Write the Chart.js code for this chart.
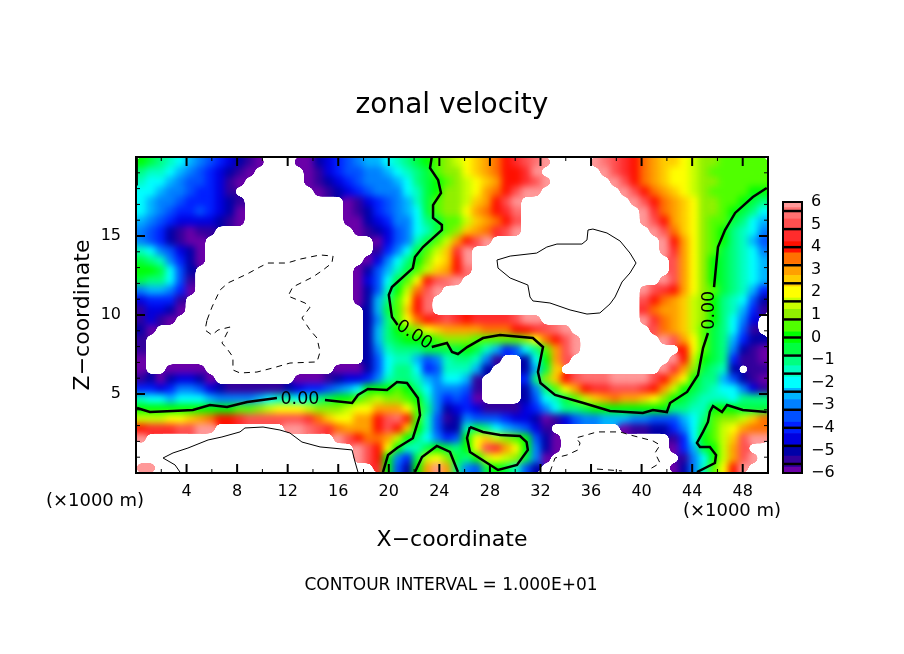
<!DOCTYPE html>
<html>
<head>
<meta charset="utf-8">
<style>
  html, body { margin: 0; padding: 0; background: #fff; }
  #field, #plot { position: absolute; left: 0; top: 0; }
  #field { filter: url(#soften); }
  #bar { position: absolute; left: 770px; top: 190px; }
</style>
<script src="https://cdn.jsdelivr.net/npm/chart.js@4/dist/chart.umd.min.js"></script>
</head>
<body>
<svg width="0" height="0" style="position:absolute">
  <filter id="soften" x="0" y="0" width="100%" height="100%" color-interpolation-filters="sRGB">
    <feGaussianBlur stdDeviation="3.6"/>
    <feComponentTransfer><feFuncA type="linear" slope="30" intercept="-14.5"/></feComponentTransfer>
  </filter>
</svg>
<canvas id="field" width="904" height="654"></canvas>
<canvas id="plot" width="904" height="654"></canvas>
<canvas id="bar" width="70" height="295"></canvas>
<script>
// colour levels, -6 to 6 in half steps
const levels = [-6,-5.5,-5,-4.5,-4,-3.5,-3,-2.5,-2,-1.5,-1,-0.5,0,0.5,1,1.5,2,2.5,3,3.5,4,4.5,5,5.5,6]
const levelColors = ["#6a00a8","#32009c","#0000a8","#0000e0","#0020ff","#0050ff","#0080ff","#00b4ff","#00ffff","#00ffc0","#00ff80","#00ff40","#00ff00","#50ff00","#90f000","#c8ff00","#ffff00","#ffcc00","#ffa000","#ff7000","#ff1000","#ff2c2c","#ff5050","#ff7070","#ff9999"]
const barSeparators = [-5.6,-4.8,-4,-3.2,-2.4,-1.6,-0.8,0,0.8,1.6,2.4,3.2,4,4.8,5.6]
const barTicks = [-6,-5,-4,-3,-2,-1,0,1,2,3,4,5,6]

const xTicks = [4,8,12,16,20,24,28,32,36,40,44,48]
const xMinorTicks = [2,6,10,14,18,22,26,30,34,38,42,46]
const zTicks = [5,10,15]
const zMinorTicks = [1,2,3,4,6,7,8,9,11,12,13,14,16,17,18,19]

// zonal velocity, rows from the top of the plot, 64 columns each. 7 / -7 = off the scale (left white)
const zonal = [
[0,-0.5,-1,-1.5,-2,-2.5,-3,-3.5,-4,-4.5,-5,-5.5,-6,-7,-7,-7,-6,-6,-5,-4.5,-4,-3.5,-3,-2.5,-2.5,-2,-1.5,-1,-0.5,0,0.5,1,1.5,2,2.5,3,3.5,4,4.5,5,5.5,6,7,7,7,7,6,5.5,5,4.5,4,3.5,3,2.5,2.5,2,1.5,1,1,0.5,0.5,0.5,0.5,0.5],
[-1,-1.5,-1.5,-2,-2.5,-3,-3.5,-4,-4.5,-5,-5.5,-6,-7,-7,-7,-7,-7,-6,-5.5,-4.5,-4,-3.5,-3.5,-3,-3,-2.5,-2,-1.5,-1,-0.5,0.5,1,1,2,2.5,3,3.5,4,4,4.5,6,7,7,7,7,7,7,6,5,4.5,4,3.5,3,2.5,2,2,1.5,1,0.5,0.5,0.5,0.5,0.5,0.5],
[-1.5,-2,-2,-2.5,-3,-3.5,-3.5,-4,-4.5,-5.5,-6,-7,-7,-7,-7,-7,-7,-6,-5.5,-5,-4.5,-4,-3.5,-3,-3,-3,-2.5,-2,-1,-0.5,0,0.5,1,1.5,2,2.5,3,4,4,4.5,5,6,7,7,7,7,7,7,6,5,4,3.5,3,2.5,2,2,1.5,1,1,0.5,0.5,0.5,0.5,0.5],
[-2,-2,-2.5,-3,-3,-3.5,-4,-4,-4.5,-5.5,-7,-7,-7,-7,-7,-7,-7,-7,-6,-5.5,-5,-4.5,-4,-3.5,-3,-3,-3,-2,-1.5,-0.5,0,1,1,1.5,2,3,3.5,4,5,6,6,7,7,7,7,7,7,7,7,6,5,4,3.5,3,2.5,2,1.5,1,0.5,0.5,0.5,0.5,0,0],
[-2,-2.5,-3,-3,-3.5,-4,-4,-4,-4.5,-5,-5.5,-7,-7,-7,-7,-7,-7,-7,-7,-7,-7,-6,-5.5,-4.5,-4,-3.5,-3,-2.5,-1.5,-0.5,0.5,1,1,1.5,2.5,3,4,5,6,7,7,7,7,7,7,7,7,7,7,7,6,5,4,3.5,3,2.5,2,1,1,0.5,0.5,0,-0.5,-1],
[-2,-2.5,-3,-3.5,-4,-4,-3.5,-4,-4.5,-5,-6,-7,-7,-7,-7,-7,-7,-7,-7,-7,-7,-6,-5.5,-5,-4,-3.5,-3,-2.5,-2,-0.5,0.5,1,1,2,3,3.5,4,4.5,5.5,7,7,7,7,7,7,7,7,7,7,7,7,6,4.5,3.5,3,2.5,2,1,1,0.5,0,-0.5,-1,-2],
[-2.5,-3,-3.5,-4,-4.5,-4.5,-4.5,-4.5,-5,-5.5,-6,-7,-7,-7,-7,-7,-7,-7,-7,-7,-7,-6,-6,-5,-4.5,-4,-3,-3,-2,-1,-0.5,0.5,0.5,1.5,2.5,3,3.5,4,5,7,7,7,7,7,7,7,7,7,7,7,7,6,5,4,3,2.5,2,1,0.5,0.5,-0.5,-1,-2,-2.5],
[-3,-3.5,-4,-5,-5.5,-6,-5.5,-5.5,-7,-7,-7,-7,-7,-7,-7,-7,-7,-7,-7,-7,-7,-7,-6,-5.5,-5,-4.5,-3.5,-3,-2,-1.5,-0.5,0.5,1,2.5,3,3.5,4.5,5,6,7,7,7,7,7,7,7,7,7,7,7,7,7,6,5,3.5,2.5,2,1,0.5,0,-1,-1.5,-2,-3],
[-3,-3.5,-4,-5,-5.5,-6,-6,-7,-7,-7,-7,-7,-7,-7,-7,-7,-7,-7,-7,-7,-7,-7,-7,-7,-6,-4.5,-3.5,-3,-1.5,-0.5,0.5,1.5,3,4,5,6,7,7,7,7,7,7,7,7,7,7,7,7,7,7,7,7,7,6,4,3,2,1,0.5,0,-1,-1.5,-2.5,-3.5],
[-1.5,-2,-3,-3.5,-4.5,-5,-6,-7,-7,-7,-7,-7,-7,-7,-7,-7,-7,-7,-7,-7,-7,-7,-7,-7,-5.5,-4,-3,-2,-0.5,0.5,1.5,2.5,4.5,6,7,7,7,7,7,7,7,7,7,7,7,7,7,7,7,7,7,7,7,6,4.5,3,2,1,0.5,-0.5,-1,-1.5,-2,-3],
[-0.5,-1,-1.5,-3,-4,-5,-6,-7,-7,-7,-7,-7,-7,-7,-7,-7,-7,-7,-7,-7,-7,-7,-7,-6,-4.5,-3,-2,-1,0,1,2,2.5,4,6,7,7,7,7,7,7,7,7,7,7,7,7,7,7,7,7,7,7,7,7,5,3,2,1,0,-0.5,-1,-1.5,-2,-2.5],
[0,0,-0.5,-2,-3.5,-5,-7,-7,-7,-7,-7,-7,-7,-7,-7,-7,-7,-7,-7,-7,-7,-7,-6,-5,-3.5,-2.5,-1.5,-0.5,0.5,1.5,2.5,3,4,5.5,7,7,7,7,7,7,7,7,7,7,7,7,7,7,7,7,7,7,7,7,5,3,2,1,0,-0.5,-1,-1.5,-2,-2.5],
[-0.5,-1,-1,-2,-3.5,-5.5,-7,-7,-7,-7,-7,-7,-7,-7,-7,-7,-7,-7,-7,-7,-7,-7,-6,-4.5,-3.5,-2,-0.5,0.5,2,4,5,5.5,6,7,7,7,7,7,7,7,7,7,7,7,7,7,7,7,7,7,7,7,7,6,5,3,2,1,0,-0.5,-1,-1.5,-2,-2.5],
[-3,-2.5,-2.5,-3,-4,-6,-7,-7,-7,-7,-7,-7,-7,-7,-7,-7,-7,-7,-7,-7,-7,-7,-6,-5,-3.5,-1.5,0,1.5,3.5,5,6,7,7,7,7,7,7,7,7,7,7,7,7,7,7,7,7,7,7,7,7,6,5,4.5,4,3,2,1,0.5,-0.5,-1,-1.5,-2.5,-4],
[-4.5,-4,-4,-4,-5.5,-7,-7,-7,-7,-7,-7,-7,-7,-7,-7,-7,-7,-7,-7,-7,-7,-7,-6,-5,-2.5,-1,0.5,2,4,5.5,7,7,7,7,7,7,7,7,7,7,7,7,7,7,7,7,7,7,7,7,7,5,4,3.5,3,2.5,1.5,1,0,-1,-1.5,-2,-3.5,-5],
[-5.5,-4.5,-4.5,-5,-6,-7,-7,-7,-7,-7,-7,-7,-7,-7,-7,-7,-7,-7,-7,-7,-7,-7,-7,-5,-2.5,-0.5,0.5,2.5,4,5.5,7,7,7,7,7,7,7,7,7,7,7,7,7,7,7,7,7,7,7,7,7,4.5,3.5,3,3,2.5,1.5,1,0,-1,-1.5,-2.5,-4,-5.5],
[-5.5,-4.5,-5.5,-6,-7,-7,-7,-7,-7,-7,-7,-7,-7,-7,-7,-7,-7,-7,-7,-7,-7,-7,-7,-5,-3,-1,0.5,2,3.5,4,4.5,5,4.5,4,4.5,4.5,4.5,4.5,5,6,6,7,7,7,7,7,7,7,7,7,7,6,4.5,3.5,3,2.5,1.5,1,0,-1,-2,-3,-4.5,-7],
[-5,-6,-7,-7,-7,-7,-7,-7,-7,-7,-7,-7,-7,-7,-7,-7,-7,-7,-7,-7,-7,-7,-7,-5,-2.5,-1,0,0.5,1,2,2.5,3,3,3,3,3.5,3.5,3.5,4,4,4.5,5,5.5,6,7,7,7,7,7,7,7,7,5,3.5,3,2.5,1.5,0.5,-0.5,-1,-2,-3.5,-5.5,-7],
[-5.5,-7,-7,-7,-7,-7,-7,-7,-7,-7,-7,-7,-7,-7,-7,-7,-7,-7,-7,-7,-7,-7,-7,-5,-2.5,-1,-0.5,0,0,0,0.5,1,1,1,0.5,0.5,0.5,0.5,0.5,1,2,3.5,4,5,6,7,7,7,7,7,7,7,7,6,5,3,2,0.5,-0.5,-1,-2.5,-4,-5,-5],
[-5.5,-7,-7,-7,-7,-7,-7,-7,-7,-7,-7,-7,-7,-7,-7,-7,-7,-7,-7,-7,-7,-7,-7,-5,-3,-1.5,-1,-1,-1,-0.5,-0.5,-0.5,-0.5,0,-0.5,-1.5,-2.5,-4,-3.5,-2,-1,0.5,3,5,6,7,7,7,7,7,7,7,7,7,7,4,2,0.5,-0.5,-1,-3,-5,-5.5,-6],
[-6,-7,-7,-7,-7,-7,-7,-7,-7,-7,-7,-7,-7,-7,-7,-7,-7,-7,-7,-7,-7,-7,-7,-5,-3.5,-2,-1.5,-1.5,-2.5,-3.5,-3,-1.5,-1,-1,-1.5,-3,-5.5,-7,-7,-5,-2,0,3,5,7,7,7,7,7,7,7,7,7,7,6,4,1.5,0,-0.5,-1,-4,-5.5,-5.5,-6],
[-6,-7,-7,-6,-6,-6,-6,-7,-7,-7,-7,-7,-7,-7,-7,-7,-7,-7,-7,-7,-6,-6,-6,-5,-3.5,-2,-1,-1,-2,-4,-3.5,-1.5,-1.5,-1.5,-2.5,-5,-7,-7,-7,-5,-2.5,-0.5,2.5,7,7,7,7,7,7,7,7,7,7,6,4.5,3,1,-0.5,-1,-1.5,-5,-7,-5.5,-5.5],
[-5.5,-5,-6,-5,-4.5,-4.5,-5,-6,-7,-7,-7,-7,-7,-7,-7,-7,-6,-6,-6,-5.5,-5,-4.5,-4.5,-4,-3,-1.5,-1,-1,-1.5,-2.5,-3,-2,-2,-2.5,-5.5,-7,-7,-7,-7,-4,-1,1,2.5,4,5,5.5,5.5,5.5,6,6,6,6,5,4,3,2,0,-1,-1,-2.5,-3.5,-5,-5.5,-6],
[-4,-4,-4.5,-4,-3,-3,-3.5,-4.5,-5,-5.5,-5.5,-5.5,-5.5,-5.5,-5.5,-5,-4.5,-4,-4,-3.5,-3,-2.5,-2,0,0,0,0.5,0,-1,-2,-3,-3,-3,-3.5,-5.5,-7,-7,-7,-7,-5,-3,-1,0.5,2,3,4,4.5,4.5,5,5,5,4.5,4,3,1.5,0,-0.5,-1,-1.5,-2,-2,-3,-4.5,-5.5],
[-1.5,-2,-2,-2.5,-2,-2,-2,-2.5,-3,-3,-3,-3,-2.5,-2,-1.5,-1.5,-2,-1.5,-1,-0.5,0,0,0.5,1,1.5,1,1,0.5,0,-1.5,-3,-4,-3.5,-4,-6,-7,-7,-7,-7,-5,-3.5,-2,-1.5,-0.5,0.5,1.5,2.5,3,3.5,3,3,2.5,2,1,0,-0.5,-1,-1.5,-1.5,-1.5,-2,-1,-1,-1],
[0,0,0,0,0,0,0,0,0,0,0.5,0.5,1,1.5,2,2,2,1.5,1,1,1,1.5,2,2,3,3,3,2,0.5,-1,-3,-5,-4.5,-4,-4.5,-5.5,-5.5,-5.5,-5.5,-4.5,-4,-3,-2,-1,-1,-0.5,0,0,0,0,0,0,0,0,-1,-1,-1.5,-1.5,0,0,0,-0.5,-0.5,-0.5],
[1.5,1.5,1.5,2,2,2.5,3,3.5,4,4,4.5,5,5,5,5,5,5,4.5,3.5,2.5,2,2,3,3,4,5,5.5,4,0.5,-1.5,-3.5,-5.5,-5,-3,-3.5,-3.5,-3.5,-4,-4.5,-4.5,-5,-6,-5.5,-4.5,-3.5,-3,-3,-2.5,-2.5,-2.5,-3,-3,-3.5,-3.5,-3.5,-2.5,-2,-1,0.5,1,1,1.5,2.5,3.5],
[4,4.5,4.5,4.5,5,5,6,6,7,7,7,7,7,7,7,6,6,5.5,5,4.5,3.5,3,3,3,4,5,4,2.5,0,-1.5,-3.5,-5,-5,-1.5,-0.5,-1,-2,-2.5,-3,-3.5,-4.5,-5.5,-7,-7,-7,-7,-7,-7,-7,-6,-5.5,-5.5,-5,-5,-4,-3,-2,-0.5,0.5,1.5,2,3,3.5,3.5],
[6,7,7,7,7,7,7,7,7,7,7,7,7,7,7,7,7,7,7,7,6,5,4,3.5,3.5,3,1.5,0,-1,-2,-3,-4,-3.5,0,2,2.5,1.5,1,0.5,0,-3.5,-5,-6,-7,-7,-7,-7,-7,-7,-7,-7,-7,-7,-7,-5.5,-4,-2,0,0.5,1.5,2.5,5,6,6],
[7,7,7,7,7,7,7,7,7,7,7,7,7,7,7,7,7,7,7,7,7,7,6,5,4,2,0,-1.5,-1.5,-0.5,0,-0.5,-1,0,2,5,4.5,3,2,0,-3,-5,-6,-7,-7,-7,-7,-7,-7,-7,-7,-7,-7,-7,-6,-4,-2.5,-0.5,0,1.5,3,5,7,7],
[7,7,7,7,7,7,7,7,7,7,7,7,7,7,7,7,7,7,7,7,7,7,6,5,4,0,-3,-4,-0.5,1.5,2,1,-0.5,-1,0,1.5,2,1.5,1,-0.5,-3,-6,-7,-7,-7,-7,-7,-7,-7,-7,-7,-7,-7,-7,-7,-5.5,-3,-2,0,1.5,3,5,6,7],
[6,6,7,7,7,7,7,7,7,7,7,7,7,7,7,7,7,7,7,7,7,7,7,7,4.5,0,-3.5,-5,0,3,6,3,-1,-3,-3.5,-0.5,0,-0.5,-1.5,-3.5,-5,-7,-7,-7,-7,-7,-7,-7,-7,-7,-7,-7,-7,-7,-6,-5,-3,-1.5,0.5,2,4,6,7,7]
]

// contour lines, [x, z] in units of 1000 m
const zeroTop = [[23.4,20],[23.26,19.3],[23.9,18.54],[24.13,17.72],[23.5,16.96],[23.5,16.14],[24.2,15.7],[24.2,15.38],[22.7,14.3],[22.07,13.67],[21.9,12.97],[20.25,11.77],[20,11.27],[20.25,9.87],[20.7,9.37]]
const zeroMiddle = [[23.4,7.97],[24.6,8.23],[25,7.66],[25.47,7.53],[26.2,7.97],[27.45,8.54],[28.8,8.73],[31.4,8.54],[32.2,7.97],[31.8,6.39],[32,5.7],[33.15,4.94],[35.4,4.43],[37.5,3.92],[40.1,3.8],[40.9,3.99],[42,3.86],[42.25,4.43],[43.6,5.13],[44.46,6.2],[44.86,7.91],[45.25,8.86]]
const zeroRight = [[45.73,11.77],[46.04,14.3],[46.6,15.38],[47.4,16.46],[48.8,17.47],[49.9,18.04]]
const zeroLeft = [[0.08,4.11],[1.1,3.86],[2.9,3.92],[4.5,3.99],[5.85,4.3],[7.2,4.18],[8.8,4.49],[11.15,4.75]]
const zeroHump = [[14.95,4.62],[17.1,4.43],[17.56,4.94],[18.35,5.32],[19.86,5.25],[20.65,5.76],[21.44,5.7],[22.3,4.75],[22.47,3.67],[21.9,2.2],[20.65,1.58],[19.94,1.14],[19.54,0.06]]
const zeroBottom = [[22.07,0.06],[22.63,1.01],[23.8,1.71],[24.84,1.33],[25.47,0.06]]
const zeroLoop = [[26.42,2.91],[26.19,2.22],[26.42,1.33],[28.64,0.19],[30.14,0.51],[31,1.46],[30.9,1.96],[30.38,2.34],[28.8,2.41],[27.45,2.6],[26.42,2.91]]
const zeroCorner = [[49.9,3.86],[48,3.99],[46.76,4.3],[46.36,3.86],[45.65,4.24],[45.4,3.86],[45.25,3.23],[44.86,2.6],[44.38,1.9],[44.62,1.65],[45.4,1.65],[45.89,1.14],[45.8,0.63],[44.38,0.06]]
const zeroEdge = [[0.05,18.2],[0.05,20]]
const plusTop = [[35.76,15.38],[35.68,14.75],[35.28,14.49],[33.3,14.49],[32.5,14.3],[31.7,13.92],[29.6,13.73],[28.56,13.48],[28.64,12.97],[29.6,12.34],[31,11.9],[31.17,11.14],[31.4,10.89],[32.75,10.76],[34.34,10.32],[35.68,10.06],[36.7,10.13],[37.5,10.7],[37.9,11.14],[38.45,12.09],[39.08,12.66],[39.56,13.29],[39.08,13.92],[38.3,14.68],[37.26,15.19],[36.15,15.44],[35.76,15.38]]
const plusBottom = [[3.48,0.06],[3.09,0.51],[2.14,0.95],[2.93,1.27],[4.11,1.58],[5.7,2.09],[6.8,2.28],[8.23,2.6],[8.62,2.85],[10.05,2.91],[11.39,2.72],[12.18,2.53],[13.13,1.96],[14.56,1.65],[17.09,1.46],[17.33,0.7],[17.56,0.06]]
const minusTop = [[5.62,9.68],[6.01,10.5],[6.65,11.58],[7.28,12.03],[8.78,12.59],[9.81,13.04],[10.44,13.29],[11.95,13.29],[13,13.54],[14.56,13.8],[15.59,13.73],[15.5,13.29],[14.8,12.85],[14,12.41],[13.2,12.09],[12.4,11.77],[12.03,11.2],[13.37,10.76],[13.77,10.5],[13.13,9.81],[13.77,9.05],[14.32,8.54],[14.56,7.66],[14.32,7.03],[12.18,6.96],[10.84,6.65],[9.57,6.39],[8.23,6.33],[7.67,6.52],[7.67,7.34],[7.28,7.78],[6.8,8.23],[7.44,9.24],[6.49,9.05],[6.01,8.73],[5.46,9.05],[5.62,9.68]]
const minusBottom = [[32.75,0.06],[33.15,0.95],[34.1,1.14],[34.97,1.46],[35.13,1.9],[34.81,2.22],[35.36,2.34],[36.47,2.6],[38.29,2.6],[39.08,2.41],[40.9,2.03],[41.46,1.77],[41.06,1.27],[41.46,0.63],[40.66,0.25]]
const minusFloor = [[36.47,0.25],[38.45,0.13]]

const contourLabelText = "0.00"
const contourLabelX = [12.97, 22, 45.4]
const contourLabelZ = [4.68, 8.73, 10.3]
const contourLabelAngle = [0, 33, -90]

const FONT = "'DejaVu Sans'"
Chart.defaults.color = "#000"
Chart.defaults.animation = false

const fieldPoints = []
const fieldColors = []
zonal.forEach((row, j) => {
  row.forEach((v, i) => {
    if (Math.abs(v) > 6) return
    fieldPoints.push({ x: (i + 0.5) * 50 / 64, y: 20 - (j + 0.5) * 20 / 32 })
    fieldColors.push(levelColors[levels.indexOf(v)])
  })
})

function contour(points, width, dash) {
  return {
    data: points.map((p) => ({ x: p[0], y: p[1] })),
    showLine: true,
    borderColor: "#000",
    borderWidth: width,
    borderDash: dash || [],
    pointRadius: 0
  }
}

// the colour field sits on its own canvas below the axes so it can be softened
new Chart(document.getElementById("field"), {
  type: "scatter",
  data: {
    datasets: [
      { data: fieldPoints, pointStyle: "rect", pointRadius: 7.2, pointBorderWidth: 0, pointBackgroundColor: fieldColors }
    ]
  },
  options: {
    responsive: false,
    events: [],
    layout: { padding: { left: 136, right: 136, top: 157, bottom: 181 } },
    plugins: { legend: { display: false }, tooltip: { enabled: false } },
    scales: {
      x: { type: "linear", min: 0, max: 50, display: false },
      y: { type: "linear", min: 0, max: 20, display: false }
    }
  }
})

// inward ticks, frame, contour labels and the loose captions
const plotDecor = {
  id: "plotDecor",
  afterDatasetsDraw(chart) {
    const { ctx, chartArea: a, scales } = chart
    const tick = (x0, y0, x1, y1, w) => {
      ctx.lineWidth = w
      ctx.beginPath(); ctx.moveTo(x0, y0); ctx.lineTo(x1, y1); ctx.stroke()
    }
    ctx.save()
    ctx.strokeStyle = "#000"
    xTicks.forEach((v) => {
      const x = scales.x.getPixelForValue(v)
      tick(x, a.bottom, x, a.bottom - 9, 2); tick(x, a.top, x, a.top + 9, 2)
    })
    xMinorTicks.forEach((v) => {
      const x = scales.x.getPixelForValue(v)
      tick(x, a.bottom, x, a.bottom - 4, 1); tick(x, a.top, x, a.top + 4, 1)
    })
    zTicks.forEach((v) => {
      const y = scales.y.getPixelForValue(v)
      tick(a.left, y, a.left + 9, y, 2); tick(a.right, y, a.right - 9, y, 2)
    })
    zMinorTicks.forEach((v) => {
      const y = scales.y.getPixelForValue(v)
      tick(a.left, y, a.left + 4, y, 1); tick(a.right, y, a.right - 4, y, 1)
    })
    ctx.lineWidth = 2
    ctx.strokeRect(a.left, a.top, a.right - a.left, a.bottom - a.top)

    ctx.fillStyle = "#000"
    ctx.textAlign = "center"
    ctx.textBaseline = "middle"
    ctx.font = "17.5px " + FONT
    contourLabelX.forEach((v, i) => {
      ctx.save()
      ctx.translate(scales.x.getPixelForValue(v), scales.y.getPixelForValue(contourLabelZ[i]))
      ctx.rotate(contourLabelAngle[i] * Math.PI / 180)
      ctx.fillText(contourLabelText, 0, 0)
      ctx.restore()
    })
    ctx.font = "18px " + FONT
    ctx.fillText("(×1000 m)", 95, 501)
    ctx.fillText("(×1000 m)", 732, 511)
    ctx.font = "17px " + FONT
    ctx.fillText("CONTOUR INTERVAL = 1.000E+01", 451, 586)
    ctx.restore()
  }
}

new Chart(document.getElementById("plot"), {
  type: "scatter",
  data: {
    datasets: [
      contour(zeroTop, 2.5), contour(zeroMiddle, 2.5), contour(zeroRight, 2.5), contour(zeroLeft, 2.5), contour(zeroHump, 2.5),
      contour(zeroBottom, 2.5), contour(zeroLoop, 2.5), contour(zeroCorner, 2.5), contour(zeroEdge, 2.5),
      contour(plusTop, 1), contour(plusBottom, 1),
      contour(minusTop, 1, [6, 5]), contour(minusBottom, 1, [6, 5]), contour(minusFloor, 1, [6, 5])
    ]
  },
  options: {
    responsive: false,
    events: [],
    plugins: {
      legend: { display: false },
      tooltip: { enabled: false },
      title: { display: true, text: "zonal velocity", font: { family: FONT, size: 28, weight: "normal" }, padding: { top: 89, bottom: 34.4 } }
    },
    scales: {
      x: {
        type: "linear", min: 0, max: 50,
        grid: { display: false, drawTicks: false },
        border: { display: false },
        afterBuildTicks: (s) => { s.ticks = xTicks.map((value) => ({ value })) },
        afterFit: (s) => { s.height = 181 },
        ticks: { autoSkip: false, maxRotation: 0, padding: 9, font: { family: FONT, size: 16 } },
        title: { display: true, text: "X−coordinate", font: { family: FONT, size: 22 }, padding: { top: 0, bottom: 101 } }
      },
      y: {
        type: "linear", min: 0, max: 20,
        grid: { display: false, drawTicks: false },
        border: { display: false },
        afterBuildTicks: (s) => { s.ticks = zTicks.map((value) => ({ value })) },
        afterFit: (s) => { s.width = 136 },
        ticks: { padding: 15, font: { family: FONT, size: 16 } },
        title: { display: true, text: "Z−coordinate", font: { family: FONT, size: 22 }, padding: { top: 70, bottom: 0 } }
      },
      // empty axis that keeps the plot clear of the colour bar
      yRight: {
        type: "linear", position: "right", min: 0, max: 20,
        grid: { display: false, drawTicks: false },
        border: { display: false },
        ticks: { display: false },
        afterFit: (s) => { s.width = 136 }
      }
    }
  },
  plugins: [plotDecor]
})

// colour bar: one floating bar per level, black bars for the separators
const barDatasets = barSeparators.map((b) => ({ data: [[b - 0.04, b + 0.04]], backgroundColor: "#000" }))
levels.forEach((v, i) => {
  barDatasets.push({ data: [[Math.max(v - 0.25, -6), Math.min(v + 0.25, 6)]], backgroundColor: levelColors[i] })
})

const barFrame = {
  id: "barFrame",
  afterDatasetsDraw(chart) {
    const { ctx, chartArea: a } = chart
    ctx.save()
    ctx.strokeStyle = "#000"
    ctx.lineWidth = 2
    ctx.strokeRect(a.left, a.top, a.right - a.left, a.bottom - a.top)
    ctx.restore()
  }
}

new Chart(document.getElementById("bar"), {
  type: "bar",
  data: { labels: [""], datasets: barDatasets },
  options: {
    responsive: false,
    events: [],
    layout: { padding: { left: 13, right: 0, top: 12, bottom: 12 } },
    plugins: { legend: { display: false }, tooltip: { enabled: false } },
    datasets: { bar: { barPercentage: 1, categoryPercentage: 1, grouped: false } },
    scales: {
      x: { display: false },
      y: {
        type: "linear", position: "right", min: -6, max: 6,
        grid: { display: false, drawTicks: false },
        border: { display: false },
        afterBuildTicks: (s) => { s.ticks = barTicks.map((value) => ({ value })) },
        afterFit: (s) => { s.width = 38; s.paddingTop = 0; s.paddingBottom = 0 },
        ticks: {
          padding: 9,
          font: { family: FONT, size: 16 },
          callback: (v) => String(v).replace("-", "−")
        }
      }
    }
  },
  plugins: [barFrame]
})
</script>
</body>
</html>
